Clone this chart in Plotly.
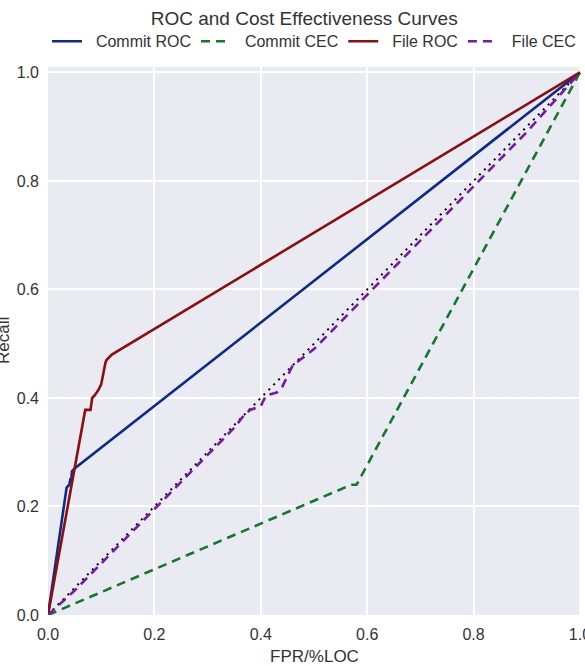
import plotly.graph_objects as go

# Commit ROC
commit_roc_fpr = [0.0, 0.035, 0.040, 0.042, 0.044, 0.045, 0.050, 1.0]
commit_roc_tpr = [0.0, 0.235, 0.240, 0.250, 0.250, 0.265, 0.270, 1.0]

# Commit CEC
commit_cec_loc = [0.0, 0.57, 0.58, 1.0]
commit_cec_rec = [0.0, 0.24, 0.24, 1.0]

# File ROC
file_roc_fpr = [0.0, 0.070, 0.080, 0.083, 0.088, 0.092, 0.095, 0.100, 0.103, 0.105, 0.108, 0.110, 0.120, 1.0]
file_roc_tpr = [0.0, 0.378, 0.378, 0.400, 0.405, 0.410, 0.415, 0.425, 0.440, 0.455, 0.465, 0.470, 0.480, 1.0]

# File CEC
file_cec_loc = [0.0, 0.05, 0.10, 0.15, 0.20, 0.25, 0.30, 0.35, 0.37, 0.38, 0.40, 0.41, 0.43, 0.44, 0.45, 0.46,
                0.50, 0.55, 0.60, 0.65, 0.70, 0.75, 0.80, 0.85, 0.90, 0.95, 1.0]
file_cec_rec = [0.0, 0.045, 0.095, 0.145, 0.195, 0.245, 0.295, 0.345, 0.370, 0.378, 0.385, 0.405, 0.410, 0.420, 0.440, 0.460,
                0.490, 0.540, 0.590, 0.640, 0.690, 0.740, 0.790, 0.840, 0.890, 0.945, 1.0]

# Random baseline
base_x = [0.0, 1.0]
base_y = [0.0, 1.0]

x_ticks = [0.0, 0.2, 0.4, 0.6, 0.8, 1.0]
y_ticks = [0.0, 0.2, 0.4, 0.6, 0.8, 1.0]

NB = "\u00a0\u00a0"

fig = go.Figure()
fig.add_trace(go.Scatter(x=base_x, y=base_y, mode="lines", showlegend=False,
                         line=dict(color="black", width=2, dash="2px,5px")))
fig.add_trace(go.Scatter(x=commit_roc_fpr, y=commit_roc_tpr, mode="lines", name=NB + "Commit ROC",
                         line=dict(color="#0d2a8a", width=2.6)))
fig.add_trace(go.Scatter(x=commit_cec_loc, y=commit_cec_rec, mode="lines", name=NB + "Commit CEC",
                         line=dict(color="#11792a", width=2.6, dash="9px,6px")))
fig.add_trace(go.Scatter(x=file_roc_fpr, y=file_roc_tpr, mode="lines", name=NB + "File ROC",
                         line=dict(color="#8b0f0f", width=2.6)))
fig.add_trace(go.Scatter(x=file_cec_loc, y=file_cec_rec, mode="lines", name=NB + "File CEC",
                         line=dict(color="#7a16a8", width=2.6, dash="9px,6px")))

font_family = "Liberation Sans, Arial, sans-serif"
fig.update_layout(
    width=585, height=666,
    margin=dict(l=48, r=4, t=67, b=51, autoexpand=False),
    paper_bgcolor="white", plot_bgcolor="#EAEAF2",
    font=dict(family=font_family, size=16, color="#333333"),
    title=dict(text="ROC and Cost Effectiveness Curves", x=0.52, xanchor="center",
               y=0.973, yanchor="middle", font=dict(size=19, color="#333333")),
    legend=dict(orientation="h", x=47 / 585, xref="container", xanchor="left",
                y=0.938, yref="container", yanchor="middle",
                font=dict(size=16, color="#333333"), bgcolor="rgba(0,0,0,0)",
                itemwidth=30, tracegroupgap=0),
    showlegend=True,
    annotations=[dict(text="Recall", xref="paper", yref="paper",
                      x=(3 - 48) / 533, y=0.5, xanchor="center", yanchor="middle",
                      textangle=-90, showarrow=False,
                      font=dict(size=17, color="#333333"))],
)
fig.update_xaxes(range=[0, 1.002], tickvals=x_ticks, ticktext=[f"{v:.1f}" for v in x_ticks],
                 showgrid=True, gridcolor="white", gridwidth=1.6, zeroline=False,
                 showline=False, ticks="", ticklabelstandoff=8, tickfont=dict(size=16),
                 ticklabeloverflow="allow",
                 title=dict(text="FPR/%LOC", font=dict(size=17), standoff=8),
                 automargin=False)
fig.update_yaxes(range=[0, 1.01], tickvals=y_ticks, ticktext=[f"{v:.1f}" for v in y_ticks],
                 showgrid=True, gridcolor="white", gridwidth=1.6, zeroline=False,
                 showline=False, ticks="", ticklabelstandoff=8, tickfont=dict(size=16),
                 automargin=False)

fig.write_html("out.html")
